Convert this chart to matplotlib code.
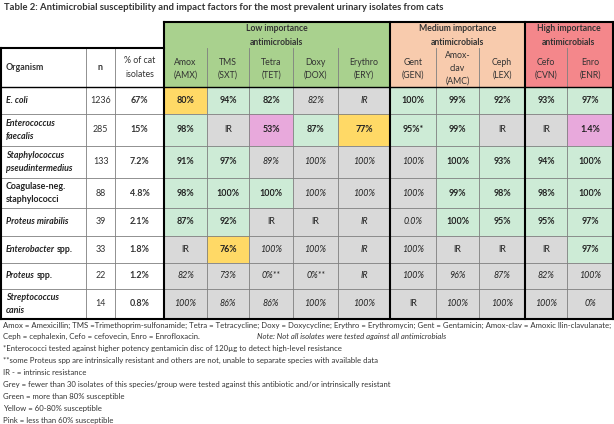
import matplotlib
matplotlib.use('Agg')
import matplotlib.pyplot as plt
from matplotlib.patches import Rectangle

plt.rcParams['font.family'] = ['Lato', 'DejaVu Sans']

# ---------------- data ----------------
title = ('Table 2: Antimicrobial susceptibility and impact factors for the most '
         'prevalent urinary isolates from cats')

groups = ['Low importance\nantimicrobials', 'Medium importance\nantimicrobials',
          'High importance\nantimicrobials']
group_span = [5, 3, 2]

drugs = ['Amox\n(AMX)', 'TMS\n(SXT)', 'Tetra\n(TET)', 'Doxy\n(DOX)', 'Erythro\n(ERY)',
         'Gent\n(GEN)', 'Amox-\nclav\n(AMC)', 'Ceph\n(LEX)', 'Cefo\n(CVN)', 'Enro\n(ENR)']

organisms = ['E. coli', 'Enterococcus\nfaecalis', 'Staphylococcus\npseudintermedius',
             'Coagulase-neg.\nstaphylococci', 'Proteus mirabilis', 'Enterobacter spp.',
             'Proteus spp.', 'Streptococcus\ncanis']
n_isolates = [1236, 285, 133, 88, 39, 33, 22, 14]
pct_isolates = ['67%', '15%', '7.2%', '4.8%', '2.1%', '1.8%', '1.2%', '0.8%']

susceptibility = [
    ['80%', '94%', '82%', '82%', 'IR', '100%', '99%', '92%', '93%', '97%'],
    ['98%', 'IR', '53%', '87%', '77%', '95%*', '99%', 'IR', 'IR', '1.4%'],
    ['91%', '97%', '89%', '100%', '100%', '100%', '100%', '93%', '94%', '100%'],
    ['98%', '100%', '100%', '100%', '100%', '100%', '99%', '98%', '98%', '100%'],
    ['87%', '92%', 'IR', 'IR', 'IR', '0.0%', '100%', '95%', '95%', '97%'],
    ['IR', '76%', '100%', '100%', 'IR', '100%', 'IR', 'IR', 'IR', '97%'],
    ['82%', '73%', '0%**', '0%**', 'IR', '100%', '96%', '87%', '82%', '100%'],
    ['100%', '86%', '86%', '100%', '100%', 'IR', '100%', '100%', '100%', '0%'],
]
# G = >80% susceptible, Y = 60-80%, P = <60%, X = grey (few isolates / intrinsic)
cell_class = ['YGGXXGGGGG', 'GXPGYGGXXP', 'GGXXXXGGGG', 'GGGXXXGGGG',
              'GGXXXXGGGG', 'XYXXXXXXXG', 'XXXXXXXXXX', 'XXXXXXXXXX']

footnotes = [
    'Amox = Amexicillin; TMS =Trimethoprim-sulfonamide; Tetra = Tetracycline; Doxy = Doxycycline; '
    'Erythro = Erythromycin; Gent = Gentamicin; Amox-clav = Amoxic llin-clavulanate;',
    'Ceph = cephalexin, Cefo = cefovecin, Enro = Enrofloxacin.',
    '*Enterococci tested against higher potency gentamicin disc of 120\u00b5g to detect high-level resistance',
    '**some Proteus spp are intrinsically resistant and others are not, unable to separate species with available data',
    'IR - = intrinsic resistance',
    'Grey = fewer than 30 isolates of this species/group were tested against this antibiotic and/or intrinsically resistant',
    'Green = more than 80% susceptible',
    'Yellow = 60-80% susceptible',
    'Pink = less than 60% susceptible',
]
note = 'Note: Not all isolates were tested against all antimicrobials'

# ---------------- style ----------------
fill = {'G': '#cdebd6', 'Y': '#ffd966', 'P': '#e8a9dc', 'X': '#d9d9d9'}
group_colors = ['#a9d18e', '#f8cbad', '#f4878b']

col_x = [1, 86, 115, 164, 207, 249, 293, 338, 390, 436, 479, 525, 567, 613]
row_y = [48, 87, 114, 146, 178, 208, 236, 263, 289, 319]
top_y = 22

fig = plt.figure(figsize=(6.14, 4.24), dpi=100)
ax = fig.add_axes([0, 0, 1, 1])
ax.set_xlim(0, 614)
ax.set_ylim(424, 0)
ax.axis('off')

ax.text(4, 8, title, fontsize=6.8, fontweight='bold', color='#333333', va='center', ha='left')

thin = dict(color='#7f7f7f', lw=0.6)
thick = dict(color='black', lw=1.5)

# group header
gc = 3
for g, span, colr in zip(groups, group_span, group_colors):
    x0, x1 = col_x[gc], col_x[gc + span]
    ax.add_patch(Rectangle((x0, top_y), x1 - x0, row_y[1] - top_y, color=colr, lw=0))
    ax.text((x0 + x1) / 2, (top_y + row_y[0]) / 2 + 0.5, g, ha='center', va='center',
            fontsize=6.2, fontweight='bold', color='#333333', linespacing=1.75)
    for k in range(1, span):
        ax.plot([col_x[gc + k]] * 2, [row_y[0], row_y[1]], **thin)
    gc += span

# column headers
ax.text(6, (row_y[0] + row_y[1]) / 2, 'Organism', ha='left', va='center', fontsize=6.4,
        fontweight='bold', color='#333333')
ax.text((col_x[1] + col_x[2]) / 2, (row_y[0] + row_y[1]) / 2, 'n', ha='center', va='center',
        fontsize=6.4, fontweight='bold', color='#333333')
ax.text((col_x[2] + col_x[3]) / 2, (row_y[0] + row_y[1]) / 2, '% of cat\nisolates', ha='center',
        va='center', fontsize=6.3, color='#333333', linespacing=1.6)
for j, d in enumerate(drugs):
    ax.text((col_x[j + 3] + col_x[j + 4]) / 2, (row_y[0] + row_y[1]) / 2 + 1, d, ha='center',
            va='center', fontsize=6.3, color='#333333', linespacing=1.5)

# body
fig.canvas.draw()
rend = fig.canvas.get_renderer()
for i, org in enumerate(organisms):
    y0, y1 = row_y[i + 1], row_y[i + 2]
    yc = (y0 + y1) / 2
    if org.endswith(' spp.'):
        t = ax.text(6, yc, org[:-5], ha='left', va='center', fontsize=6.4, fontweight='bold',
                    style='italic', color='#222222')
        bb = t.get_window_extent(rend)
        xe = ax.transData.inverted().transform((bb.x1, bb.y0))[0]
        ax.text(xe + 1.8, yc, 'spp.', ha='left', va='center', fontsize=6.4, fontweight='bold',
                color='#222222')
    else:
        ax.text(6, yc, org, ha='left', va='center', fontsize=6.4, fontweight='bold',
                style='normal' if org.startswith('Coag') else 'italic', color='#222222',
                linespacing=1.5)
    ax.text((col_x[1] + col_x[2]) / 2, yc, str(n_isolates[i]), ha='center', va='center',
            fontsize=6.4, color='#333333')
    ax.text((col_x[2] + col_x[3]) / 2, yc, pct_isolates[i], ha='center', va='center',
            fontsize=6.4, fontweight='bold', color='#333333')
    for j, val in enumerate(susceptibility[i]):
        c = cell_class[i][j]
        x0, x1 = col_x[j + 3], col_x[j + 4]
        ax.add_patch(Rectangle((x0, y0), x1 - x0, y1 - y0, color=fill[c], lw=0))
        if c != 'X':
            kw = dict(fontweight='bold')
        elif val == 'IR' and j != 4:
            kw = dict()
        else:
            kw = dict(style='italic')
        ax.text((x0 + x1) / 2, yc, val, ha='center', va='center', fontsize=6.4,
                color='#222222', **kw)

# grid lines
for y in row_y[2:-1]:
    ax.plot([col_x[0], col_x[-1]], [y, y], **thin)
for x in col_x[1:-1]:
    if x not in (164, 390, 525):
        ax.plot([x, x], [row_y[0] if x < 164 else row_y[1], row_y[-1]], **thin)
ax.plot([col_x[0], col_x[-1]], [row_y[1], row_y[1]], color='black', lw=1.0)
# thick frames
ax.plot([col_x[0], col_x[3]], [row_y[0], row_y[0]], **thick)
ax.plot([col_x[3], col_x[-1]], [top_y, top_y], **thick)
ax.plot([col_x[0], col_x[-1]], [row_y[-1], row_y[-1]], **thick)
ax.plot([col_x[0], col_x[0]], [row_y[0], row_y[-1]], **thick)
for x in (164, 390, 525, 613):
    ax.plot([x, x], [top_y, row_y[-1]], **thick)

# footnotes
for k, line in enumerate(footnotes):
    ax.text(3, 325 + 11.9 * k, line, ha='left', va='center', fontsize=5.55, color='#333333')
ax.text(257, 325 + 11.9, note, ha='left', va='center', fontsize=5.55, style='italic',
        color='#333333')

fig.savefig('out.png', dpi=100)
